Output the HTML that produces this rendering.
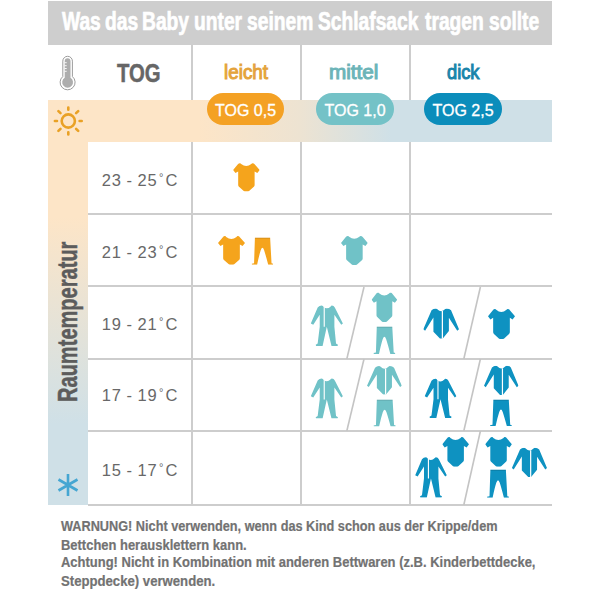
<!DOCTYPE html>
<html><head><meta charset="utf-8">
<style>
html,body{margin:0;padding:0;background:#fff;}
body{width:600px;height:600px;position:relative;overflow:hidden;font-family:"Liberation Sans",sans-serif;}
.a{position:absolute;}
.t{position:absolute;white-space:nowrap;line-height:1;transform-origin:0 0;}
#hdr{left:48px;top:1px;width:504px;height:44px;background:#cecece;}
.tw{top:8.8px;font-size:25.4px;font-weight:bold;color:#fff;transform:scaleX(0.757);-webkit-text-stroke:0.7px #fff;}
#tog{left:117px;top:60.6px;font-size:25.4px;font-weight:bold;color:#666;transform:scaleX(0.80);-webkit-text-stroke:0.5px #666;}
.cat{font-size:20px;font-weight:normal;-webkit-text-stroke:1.0px currentColor;}
#hband{left:48px;top:100px;width:504px;height:42px;background:linear-gradient(to right,#fde5c7 0%,#fde5c7 30%,#ede3d2 50%,#cfe0e7 68%,#cfe0e7 100%);}
#vband{left:48px;top:100px;width:40px;height:405px;background:linear-gradient(to bottom,#fde5c7 0%,#fde5c7 29%,#cfe0e7 80%,#cfe0e7 100%);}
.pill{position:absolute;height:32px;border-radius:16px;color:#fff;font-size:16px;line-height:35px;text-align:center;-webkit-text-stroke:0.3px #fff;}
.hl{position:absolute;height:2px;background:#cdcdcd;left:88px;width:464px;}
.vl{position:absolute;width:2px;background:#cdcdcd;}
.temp{position:absolute;left:88px;width:104px;text-align:center;font-size:16.5px;line-height:1;color:#686868;white-space:nowrap;letter-spacing:0.9px;}
.temp .dash{margin:0 4.6px 0 4.6px;}
.temp .deg{font-size:11px;vertical-align:5px;margin:0 1.2px 0 1.2px;}
.foot{font-size:14px;font-weight:bold;color:#727272;-webkit-text-stroke:0.2px #727272;}
</style></head><body>

<div class="a" id="hdr"></div>
<div class="t tw" style="left:62.26px">Was</div><div class="t tw" style="left:105.00px">das</div><div class="t tw" style="left:142.04px">Baby</div><div class="t tw" style="left:193.64px">unter</div><div class="t tw" style="left:247.00px">seinem</div><div class="t tw" style="left:318.30px">Schlafsack</div><div class="t tw" style="left:424.50px">tragen</div><div class="t tw" style="left:488.50px">sollte</div>

<!-- thermometer -->
<svg class="a" style="left:58px;top:54px" width="20" height="38" viewBox="0 0 20 38">
<path d="M4.8,7.1 A4.8,4.8 0 0 1 14.4,7.1 L14.4,22.54 A7.5,7.5 0 1 1 4.8,22.54 Z" fill="#fff" stroke="#9c9c9c" stroke-width="1"/>
<path d="M6.7,7.2 A2.9,2.9 0 0 1 12.5,7.2 L12.5,23.75 A5.4,5.4 0 1 1 6.7,23.75 Z" fill="#adadad"/>
<g stroke="#fff" stroke-width="0.9"><path d="M6.5,8.7 h2.2 M6.5,11.7 h2.2 M6.5,14.5 h2.2 M6.5,17.3 h2.2"/></g>
</svg>

<div class="t" id="tog">TOG</div>

<div class="a" id="hband"></div>
<div class="a" id="vband"></div>

<!-- grid lines -->
<div class="vl" style="left:191px;top:45px;height:55px"></div>
<div class="vl" style="left:300px;top:45px;height:55px"></div>
<div class="vl" style="left:409px;top:45px;height:55px"></div>
<div class="vl" style="left:191px;top:142px;height:363px"></div>
<div class="vl" style="left:300px;top:142px;height:363px"></div>
<div class="vl" style="left:409px;top:142px;height:363px"></div>
<div class="hl" style="top:213px"></div>
<div class="hl" style="top:285px"></div>
<div class="hl" style="top:357.5px"></div>
<div class="hl" style="top:430px"></div>
<div class="hl" style="top:503.5px"></div>

<!-- sun -->
<svg class="a" style="left:48px;top:101px" width="40" height="40" viewBox="0 0 40 40">
<g stroke="#e9a125" stroke-width="2.6" stroke-linecap="round" fill="none" transform="translate(20.3,20)">
<circle r="6.6"/>
<path d="M0,-11.3 V-13.4 M0,11.3 V13.4 M-11.3,0 H-13.4 M11.3,0 H13.4 M7.8,-7.8 L9.9,-9.9 M-7.8,-7.8 L-9.9,-9.9 M7.8,7.8 L9.9,9.9 M-7.8,7.8 L-9.9,9.9"/>
</g>
</svg>
<!-- snowflake -->
<svg class="a" style="left:48px;top:465px" width="40" height="40" viewBox="0 0 40 40">
<g stroke="#45a6d2" stroke-width="2.6" fill="none" transform="translate(20,20)">
<path d="M0,-11 V11 M-9.5,-5.5 L9.5,5.5 M-9.5,5.5 L9.5,-5.5"/>
</g>
</svg>

<!-- Raumtemperatur -->
<div class="t" style="left:54.3px;top:401.6px;font-size:28px;font-weight:bold;color:#5c5c5c;transform:rotate(-90deg) scaleX(0.716);-webkit-text-stroke:0.5px #5c5c5c;">Raumtemperatur</div>

<!-- category labels -->
<div class="t cat" style="left:223.5px;top:62px;color:#e4a33c;transform:scaleX(0.944)">leicht</div>
<div class="t cat" style="left:329.4px;top:62px;color:#6cb4b8;transform:scaleX(1.035)">mittel</div>
<div class="t cat" style="left:446.5px;top:62px;color:#1a84a9;transform:scaleX(0.914)">dick</div>

<div class="pill" style="left:207px;top:93px;width:77px;background:#f4a124;">TOG 0,5</div>
<div class="pill" style="left:316px;top:93px;width:78px;background:#74c2c7;">TOG 1,0</div>
<div class="pill" style="left:424px;top:93px;width:78px;background:#0b8dbb;">TOG 2,5</div>

<!-- temperatures -->
<div class="temp" style="top:172.2px"><span>23</span><span class="dash">-</span><span>25</span><span class="deg">°</span>C</div>
<div class="temp" style="top:243.5px"><span>21</span><span class="dash">-</span><span>23</span><span class="deg">°</span>C</div>
<div class="temp" style="top:315.6px"><span>19</span><span class="dash">-</span><span>21</span><span class="deg">°</span>C</div>
<div class="temp" style="top:387.0px"><span>17</span><span class="dash">-</span><span>19</span><span class="deg">°</span>C</div>
<div class="temp" style="top:461.5px"><span>15</span><span class="dash">-</span><span>17</span><span class="deg">°</span>C</div>
<!-- diagonals -->
<svg class="a" style="left:0;top:0" width="600" height="600">
<g stroke="#c4c4c4" stroke-width="1.6">
<line x1="364" y1="287" x2="346.8" y2="359"/>
<line x1="364" y1="359" x2="346.8" y2="431"/>
<line x1="480.4" y1="287" x2="463.8" y2="359"/>
<line x1="480.4" y1="359" x2="463.8" y2="431"/>
<line x1="480.4" y1="431" x2="463.8" y2="505"/>
</g>
<g fill="#f5a41c">
<svg x="233.1" y="163.1" width="26.6" height="28.3" viewBox="0 0 26.7 29.1" preserveAspectRatio="none"><path d="M4.8,1.2 Q5.6,0.1 6.9,0.1 Q7.7,0.2 8.1,0.9 Q13.2,5.1 18.3,0.9 Q18.8,0.2 19.5,0.1 Q20.9,0.1 21.6,1.2 L26.7,7.2 L24.3,10.2 L21.6,8.7 L21.6,22.5 Q21.6,23.5 20.8,24.3 L16,28.7 Q15.6,29.1 15,29.1 L11.7,29.1 Q11.1,29.1 10.7,28.7 L5.9,24.3 Q5.1,23.5 5.1,22.5 L5.1,8.7 L2.4,10.2 L0,7.2 Z"/></svg>
<svg x="218" y="236" width="27" height="28.7" viewBox="0 0 26.7 29.1" preserveAspectRatio="none"><path d="M4.8,1.2 Q5.6,0.1 6.9,0.1 Q7.7,0.2 8.1,0.9 Q13.2,5.1 18.3,0.9 Q18.8,0.2 19.5,0.1 Q20.9,0.1 21.6,1.2 L26.7,7.2 L24.3,10.2 L21.6,8.7 L21.6,22.5 Q21.6,23.5 20.8,24.3 L16,28.7 Q15.6,29.1 15,29.1 L11.7,29.1 Q11.1,29.1 10.7,28.7 L5.9,24.3 Q5.1,23.5 5.1,22.5 L5.1,8.7 L2.4,10.2 L0,7.2 Z"/></svg>
<svg x="251.6" y="237.4" width="21.6" height="27.3" viewBox="0 0 22.75 27.7" preserveAspectRatio="none"><path d="M3.5,0 L19.5,0 L21,26.25 L22.75,26.7 L22.5,27.7 L17.5,27.7 Q15,18.5 13.2,13 Q12.2,10.5 11.4,10.5 Q10.6,10.5 9.6,13 Q7.8,18.5 5.8,27.7 L0.3,27.7 L0,26.7 L2.6,26.25 Z"/>
<rect x="3.5" y="0" width="16" height="1.3" fill="#000" fill-opacity="0.12"/></svg>
</g>
<g fill="#70c2c7">
<svg x="341" y="235.8" width="26.8" height="29.2" viewBox="0 0 26.7 29.1" preserveAspectRatio="none"><path d="M4.8,1.2 Q5.6,0.1 6.9,0.1 Q7.7,0.2 8.1,0.9 Q13.2,5.1 18.3,0.9 Q18.8,0.2 19.5,0.1 Q20.9,0.1 21.6,1.2 L26.7,7.2 L24.3,10.2 L21.6,8.7 L21.6,22.5 Q21.6,23.5 20.8,24.3 L16,28.7 Q15.6,29.1 15,29.1 L11.7,29.1 Q11.1,29.1 10.7,28.7 L5.9,24.3 Q5.1,23.5 5.1,22.5 L5.1,8.7 L2.4,10.2 L0,7.2 Z"/></svg>
<svg x="310.6" y="304.4" width="32.5" height="41.6" viewBox="0 0 31.7 40" preserveAspectRatio="none"><path d="M6.9,3.1 Q8.5,1.2 10.9,1.15 Q12,1.3 12.5,2.3 Q16,5.5 19.6,1.9 Q20.1,1.2 20.8,1.15 Q22.6,1.3 23.6,3.1 L31.5,18.4 L29.9,19.6 L23.2,10 L23.2,21.5 L24.8,37.6 L26.7,38.7 L26.3,39.9 L20.4,39.9 L15.8,21.5 L11.7,39.9 L5.3,39.9 L5,38.7 L6.9,37.6 L8.9,21.5 L8.9,10 L2.6,19.6 L0.2,18.4 Z"/>
<path d="M13.3,2.6 L13.3,21.5" stroke="#fff" stroke-width="1.1" fill="none"/></svg>
<svg x="371.6" y="292.5" width="25.6" height="29.4" viewBox="0 0 26.7 29.1" preserveAspectRatio="none"><path d="M4.8,1.2 Q5.6,0.1 6.9,0.1 Q7.7,0.2 8.1,0.9 Q13.2,5.1 18.3,0.9 Q18.8,0.2 19.5,0.1 Q20.9,0.1 21.6,1.2 L26.7,7.2 L24.3,10.2 L21.6,8.7 L21.6,22.5 Q21.6,23.5 20.8,24.3 L16,28.7 Q15.6,29.1 15,29.1 L11.7,29.1 Q11.1,29.1 10.7,28.7 L5.9,24.3 Q5.1,23.5 5.1,22.5 L5.1,8.7 L2.4,10.2 L0,7.2 Z"/></svg>
<svg x="373.4" y="326.4" width="22" height="27.6" viewBox="0 0 22.75 27.7" preserveAspectRatio="none"><path d="M3.5,0 L19.5,0 L21,26.25 L22.75,26.7 L22.5,27.7 L17.5,27.7 Q15,18.5 13.2,13 Q12.2,10.5 11.4,10.5 Q10.6,10.5 9.6,13 Q7.8,18.5 5.8,27.7 L0.3,27.7 L0,26.7 L2.6,26.25 Z"/>
<rect x="3.5" y="0" width="16" height="1.3" fill="#000" fill-opacity="0.12"/></svg>
<svg x="310.6" y="377.3" width="32.5" height="41.3" viewBox="0 0 31.7 40" preserveAspectRatio="none"><path d="M6.9,3.1 Q8.5,1.2 10.9,1.15 Q12,1.3 12.5,2.3 Q16,5.5 19.6,1.9 Q20.1,1.2 20.8,1.15 Q22.6,1.3 23.6,3.1 L31.5,18.4 L29.9,19.6 L23.2,10 L23.2,21.5 L24.8,37.6 L26.7,38.7 L26.3,39.9 L20.4,39.9 L15.8,21.5 L11.7,39.9 L5.3,39.9 L5,38.7 L6.9,37.6 L8.9,21.5 L8.9,10 L2.6,19.6 L0.2,18.4 Z"/>
<path d="M13.3,2.6 L13.3,21.5" stroke="#fff" stroke-width="1.1" fill="none"/></svg>
<svg x="367" y="366" width="34.8" height="28.8" viewBox="0 0 34.6 29.7" preserveAspectRatio="none"><path d="M8,1.75 Q9.7,0 11.9,0 Q13,0.1 13.6,0.9 Q17.5,4.8 21.3,0.7 Q21.9,0 22.7,0 Q25.3,0 26.9,1.75 L34.6,20.3 L32.9,21.7 L24.8,9.1 L24.8,22 L18.9,29.4 L16.1,29.4 L9.8,22.7 L9.8,8.75 L1.75,21.7 L0,20.3 Z"/>
<path d="M18.5,2.6 L18.5,29.6" stroke="#fff" stroke-width="1.2" fill="none"/></svg>
<svg x="373.4" y="399.4" width="22.4" height="27.1" viewBox="0 0 22.75 27.7" preserveAspectRatio="none"><path d="M3.5,0 L19.5,0 L21,26.25 L22.75,26.7 L22.5,27.7 L17.5,27.7 Q15,18.5 13.2,13 Q12.2,10.5 11.4,10.5 Q10.6,10.5 9.6,13 Q7.8,18.5 5.8,27.7 L0.3,27.7 L0,26.7 L2.6,26.25 Z"/>
<rect x="3.5" y="0" width="16" height="1.3" fill="#000" fill-opacity="0.12"/></svg>
</g>
<g fill="#0e92c1">
<svg x="423.3" y="308.4" width="35.7" height="30.5" viewBox="0 0 34.6 29.7" preserveAspectRatio="none"><path d="M8,1.75 Q9.7,0 11.9,0 Q13,0.1 13.6,0.9 Q17.5,4.8 21.3,0.7 Q21.9,0 22.7,0 Q25.3,0 26.9,1.75 L34.6,20.3 L32.9,21.7 L24.8,9.1 L24.8,22 L18.9,29.4 L16.1,29.4 L9.8,22.7 L9.8,8.75 L1.75,21.7 L0,20.3 Z"/>
<path d="M18.5,2.6 L18.5,29.6" stroke="#fff" stroke-width="1.2" fill="none"/></svg>
<svg x="488" y="308.9" width="27" height="30" viewBox="0 0 26.7 29.1" preserveAspectRatio="none"><path d="M4.8,1.2 Q5.6,0.1 6.9,0.1 Q7.7,0.2 8.1,0.9 Q13.2,5.1 18.3,0.9 Q18.8,0.2 19.5,0.1 Q20.9,0.1 21.6,1.2 L26.7,7.2 L24.3,10.2 L21.6,8.7 L21.6,22.5 Q21.6,23.5 20.8,24.3 L16,28.7 Q15.6,29.1 15,29.1 L11.7,29.1 Q11.1,29.1 10.7,28.7 L5.9,24.3 Q5.1,23.5 5.1,22.5 L5.1,8.7 L2.4,10.2 L0,7.2 Z"/></svg>
<svg x="424.5" y="377.6" width="32.1" height="40.4" viewBox="0 0 31.7 40" preserveAspectRatio="none"><path d="M6.9,3.1 Q8.5,1.2 10.9,1.15 Q12,1.3 12.5,2.3 Q16,5.5 19.6,1.9 Q20.1,1.2 20.8,1.15 Q22.6,1.3 23.6,3.1 L31.5,18.4 L29.9,19.6 L23.2,10 L23.2,21.5 L24.8,37.6 L26.7,38.7 L26.3,39.9 L20.4,39.9 L15.8,21.5 L11.7,39.9 L5.3,39.9 L5,38.7 L6.9,37.6 L8.9,21.5 L8.9,10 L2.6,19.6 L0.2,18.4 Z"/>
<path d="M13.3,2.6 L13.3,21.5" stroke="#fff" stroke-width="1.1" fill="none"/></svg>
<svg x="484" y="365.7" width="34.5" height="29.5" viewBox="0 0 34.6 29.7" preserveAspectRatio="none"><path d="M8,1.75 Q9.7,0 11.9,0 Q13,0.1 13.6,0.9 Q17.5,4.8 21.3,0.7 Q21.9,0 22.7,0 Q25.3,0 26.9,1.75 L34.6,20.3 L32.9,21.7 L24.8,9.1 L24.8,22 L18.9,29.4 L16.1,29.4 L9.8,22.7 L9.8,8.75 L1.75,21.7 L0,20.3 Z"/>
<path d="M18.5,2.6 L18.5,29.6" stroke="#fff" stroke-width="1.2" fill="none"/></svg>
<svg x="490" y="399.5" width="21.9" height="26.6" viewBox="0 0 22.75 27.7" preserveAspectRatio="none"><path d="M3.5,0 L19.5,0 L21,26.25 L22.75,26.7 L22.5,27.7 L17.5,27.7 Q15,18.5 13.2,13 Q12.2,10.5 11.4,10.5 Q10.6,10.5 9.6,13 Q7.8,18.5 5.8,27.7 L0.3,27.7 L0,26.7 L2.6,26.25 Z"/>
<rect x="3.5" y="0" width="16" height="1.3" fill="#000" fill-opacity="0.12"/></svg>
<svg x="442.3" y="437" width="26.7" height="29.7" viewBox="0 0 26.7 29.1" preserveAspectRatio="none"><path d="M4.8,1.2 Q5.6,0.1 6.9,0.1 Q7.7,0.2 8.1,0.9 Q13.2,5.1 18.3,0.9 Q18.8,0.2 19.5,0.1 Q20.9,0.1 21.6,1.2 L26.7,7.2 L24.3,10.2 L21.6,8.7 L21.6,22.5 Q21.6,23.5 20.8,24.3 L16,28.7 Q15.6,29.1 15,29.1 L11.7,29.1 Q11.1,29.1 10.7,28.7 L5.9,24.3 Q5.1,23.5 5.1,22.5 L5.1,8.7 L2.4,10.2 L0,7.2 Z"/></svg>
<svg x="415" y="456" width="32" height="41.7" viewBox="0 0 31.7 40" preserveAspectRatio="none"><path d="M6.9,3.1 Q8.5,1.2 10.9,1.15 Q12,1.3 12.5,2.3 Q16,5.5 19.6,1.9 Q20.1,1.2 20.8,1.15 Q22.6,1.3 23.6,3.1 L31.5,18.4 L29.9,19.6 L23.2,10 L23.2,21.5 L24.8,37.6 L26.7,38.7 L26.3,39.9 L20.4,39.9 L15.8,21.5 L11.7,39.9 L5.3,39.9 L5,38.7 L6.9,37.6 L8.9,21.5 L8.9,10 L2.6,19.6 L0.2,18.4 Z"/>
<path d="M13.3,2.6 L13.3,21.5" stroke="#fff" stroke-width="1.1" fill="none"/></svg>
<svg x="485.2" y="437" width="26.7" height="29.7" viewBox="0 0 26.7 29.1" preserveAspectRatio="none"><path d="M4.8,1.2 Q5.6,0.1 6.9,0.1 Q7.7,0.2 8.1,0.9 Q13.2,5.1 18.3,0.9 Q18.8,0.2 19.5,0.1 Q20.9,0.1 21.6,1.2 L26.7,7.2 L24.3,10.2 L21.6,8.7 L21.6,22.5 Q21.6,23.5 20.8,24.3 L16,28.7 Q15.6,29.1 15,29.1 L11.7,29.1 Q11.1,29.1 10.7,28.7 L5.9,24.3 Q5.1,23.5 5.1,22.5 L5.1,8.7 L2.4,10.2 L0,7.2 Z"/></svg>
<svg x="487" y="469.6" width="22" height="28.1" viewBox="0 0 22.75 27.7" preserveAspectRatio="none"><path d="M3.5,0 L19.5,0 L21,26.25 L22.75,26.7 L22.5,27.7 L17.5,27.7 Q15,18.5 13.2,13 Q12.2,10.5 11.4,10.5 Q10.6,10.5 9.6,13 Q7.8,18.5 5.8,27.7 L0.3,27.7 L0,26.7 L2.6,26.25 Z"/>
<rect x="3.5" y="0" width="16" height="1.3" fill="#000" fill-opacity="0.12"/></svg>
<svg x="511.9" y="447.7" width="35.1" height="29.7" viewBox="0 0 34.6 29.7" preserveAspectRatio="none"><path d="M8,1.75 Q9.7,0 11.9,0 Q13,0.1 13.6,0.9 Q17.5,4.8 21.3,0.7 Q21.9,0 22.7,0 Q25.3,0 26.9,1.75 L34.6,20.3 L32.9,21.7 L24.8,9.1 L24.8,22 L18.9,29.4 L16.1,29.4 L9.8,22.7 L9.8,8.75 L1.75,21.7 L0,20.3 Z"/>
<path d="M18.5,2.6 L18.5,29.6" stroke="#fff" stroke-width="1.2" fill="none"/></svg>
</g>
</svg>

<!-- footer -->
<div class="t foot" style="left:61px;top:519px;transform:scaleX(0.908)">WARNUNG! Nicht verwenden, wenn das Kind schon aus der Krippe/dem</div>
<div class="t foot" style="left:61px;top:537.5px;transform:scaleX(0.925)">Bettchen herausklettern kann.</div>
<div class="t foot" style="left:61px;top:555px;transform:scaleX(0.927)">Achtung! Nicht in Kombination mit anderen Bettwaren (z.B. Kinderbettdecke,</div>
<div class="t foot" style="left:61px;top:573.5px;transform:scaleX(0.939)">Steppdecke) verwenden.</div>
</body></html>
